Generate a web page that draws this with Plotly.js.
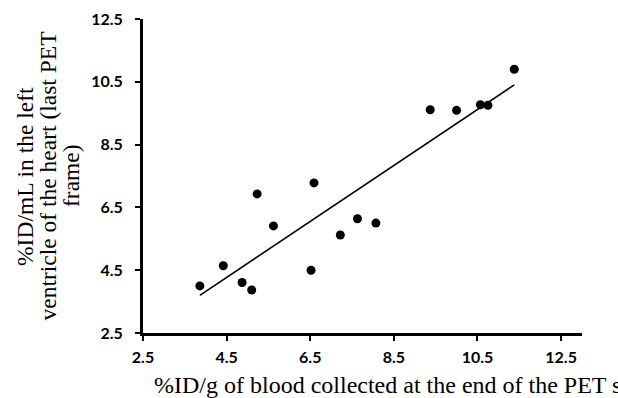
<!DOCTYPE html>
<html>
<head>
<meta charset="utf-8">
<script src="https://cdn.plot.ly/plotly-3.0.1.min.js"></script>
<style>
  html, body { margin: 0; padding: 0; background: #fff; overflow: hidden; }
  #chart { width: 618px; height: 398px; }
</style>
</head>
<body>
<div id="chart"></div>
<script>
// Blood activity (%ID/g) vs. left-ventricle activity on the last PET frame (%ID/mL)
const bloodIDg = [3.86, 4.42, 4.87, 5.10, 5.23, 5.62, 6.52, 6.59, 7.22, 7.63, 8.07, 9.37, 10.00, 10.57, 10.75, 11.38];
const ventricleIDmL = [4.00, 4.64, 4.11, 3.87, 6.93, 5.91, 4.50, 7.28, 5.62, 6.14, 6.00, 9.61, 9.59, 9.77, 9.75, 10.90];
const tickValues = [2.5, 4.5, 6.5, 8.5, 10.5, 12.5];
const tickLabels = ['2.5', '4.5', '6.5', '8.5', '10.5', '12.5'];
const xTitle = '%ID/g of blood collected at the end of the PET scan';
const yTitleLines = ['%ID/mL in the left', 'ventricle of the heart (last PET', 'frame)'];

// Ordinary least-squares fit for the trend line
function linearFit(xs, ys) {
  const n = xs.length;
  const mx = xs.reduce((a, b) => a + b, 0) / n;
  const my = ys.reduce((a, b) => a + b, 0) / n;
  let sxy = 0, sxx = 0;
  for (let i = 0; i < n; i++) {
    sxy += (xs[i] - mx) * (ys[i] - my);
    sxx += (xs[i] - mx) * (xs[i] - mx);
  }
  const slope = sxy / sxx;
  return { slope: slope, intercept: my - slope * mx };
}
const fit = linearFit(bloodIDg, ventricleIDmL);
const trendX = [Math.min(...bloodIDg), Math.max(...bloodIDg)];
const trendY = trendX.map(x => fit.intercept + fit.slope * x);

const tickFont = { family: 'Lato', size: 16, color: '#000', weight: 'bold' };
const serif = 'Liberation Serif';

const traces = [
  {
    x: trendX, y: trendY,
    mode: 'lines', type: 'scatter',
    line: { color: '#000', width: 1.6 },
    hoverinfo: 'skip', showlegend: false
  },
  {
    x: bloodIDg, y: ventricleIDmL,
    mode: 'markers', type: 'scatter',
    marker: { color: '#000', size: 9 },
    showlegend: false
  }
];

const axisCommon = {
  showgrid: false, zeroline: false, showline: true,
  linecolor: '#000', linewidth: 3,
  ticks: 'outside', ticklen: 5, tickwidth: 2, tickcolor: '#000',
  tickmode: 'array', tickvals: tickValues, ticktext: tickLabels,
  tickfont: tickFont, fixedrange: true
};

// y-axis title: three rotated lines set close together
const yLineX = [-0.2688, -0.2175, -0.164];
const yTitleAnnotations = yTitleLines.map((line, i) => ({
  text: line,
  xref: 'paper', yref: 'paper',
  x: yLineX[i], y: 0.5, xanchor: 'center', yanchor: 'middle',
  textangle: -90, showarrow: false,
  font: { family: serif, size: 23.5, color: '#000' }
}));

const layout = {
  width: 618, height: 398,
  margin: { l: 143, r: 36, t: 19, b: 65 },
  paper_bgcolor: '#fff', plot_bgcolor: '#fff',
  xaxis: Object.assign({}, axisCommon, { range: [2.5, 13.0], ticklabelstandoff: 3 }),
  yaxis: Object.assign({}, axisCommon, { range: [2.5, 12.5], ticklabelstandoff: 9 }),
  annotations: [
    {
      text: xTitle,
      xref: 'paper', yref: 'paper',
      x: 0.0205, y: -0.1656, xanchor: 'left', yanchor: 'middle',
      showarrow: false,
      font: { family: serif, size: 24, color: '#000' }
    }
  ].concat(yTitleAnnotations)
};

Plotly.newPlot('chart', traces, layout, { displayModeBar: false, staticPlot: true });
</script>
</body>
</html>
